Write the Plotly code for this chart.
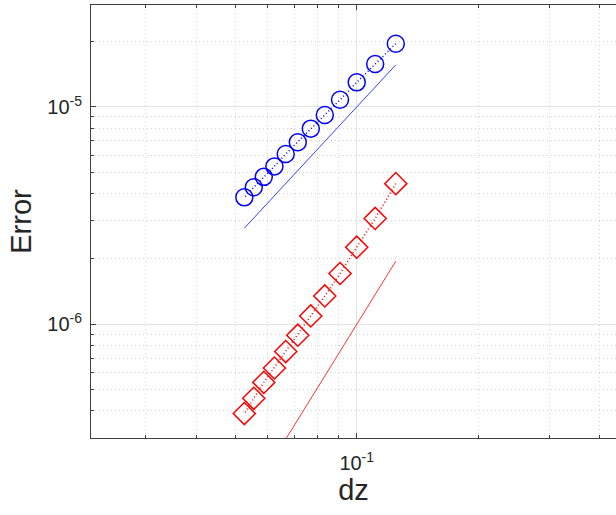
import plotly.graph_objects as go

# Data
dz = [1/8, 1/9, 1/10, 1/11, 1/12, 1/13, 1/14, 1/15, 1/16, 1/17, 1/18, 1/19]
err_blue = [1.955e-5, 1.577e-5, 1.298e-5, 1.080e-5, 9.19e-6, 7.95e-6,
            6.88e-6, 6.08e-6, 5.33e-6, 4.77e-6, 4.27e-6, 3.84e-6]
err_red = [4.44e-6, 3.07e-6, 2.265e-6, 1.714e-6, 1.351e-6, 1.093e-6,
           8.92e-7, 7.50e-7, 6.30e-7, 5.41e-7, 4.57e-7, 3.89e-7]
ref_x = [1/19, 1/8]
ref_blue = [2.77e-6, 1.5625e-5]
ref_red = [1.458e-7, 1.953e-6]

x_tickvals = [0.1]
x_ticktext = ["10<sup>-1</sup>"]
y_tickvals = [1e-6, 1e-5]
y_ticktext = ["10<sup>-6</sup>", "10<sup>-5</sup>"]
x_minor = [0.03, 0.04, 0.05, 0.06, 0.07, 0.08, 0.09, 0.2, 0.3, 0.4]
y_minor = [3e-7, 4e-7, 5e-7, 6e-7, 7e-7, 8e-7, 9e-7,
           2e-6, 3e-6, 4e-6, 5e-6, 6e-6, 7e-6, 8e-6, 9e-6, 2e-5, 3e-5]

fig = go.Figure()
fig.add_trace(go.Scatter(x=dz, y=err_blue, mode="lines+markers",
                         line=dict(color="#0000ff", width=1.5, dash="1px,2.5px"),
                         marker=dict(symbol="circle-open", size=17,
                                     line=dict(color="#0000ff", width=1.5)),
                         showlegend=False))
fig.add_trace(go.Scatter(x=ref_x, y=ref_blue, mode="lines",
                         line=dict(color="#3344ff", width=1),
                         showlegend=False))
fig.add_trace(go.Scatter(x=dz, y=err_red, mode="lines+markers",
                         line=dict(color="#ff0000", width=1.5, dash="1px,2.5px"),
                         marker=dict(symbol="diamond-open", size=17,
                                     line=dict(color="#ff0000", width=1.5)),
                         showlegend=False))
fig.add_trace(go.Scatter(x=ref_x, y=ref_red, mode="lines",
                         line=dict(color="#ff3333", width=1),
                         showlegend=False))

axis_font = dict(family="Liberation Sans, Arial, sans-serif", size=20, color="#262626")
title_font = dict(family="Liberation Sans, Arial, sans-serif", size=29, color="#262626")

fig.update_xaxes(type="log", range=[-1.659, -0.357],
                 tickmode="array", tickvals=x_tickvals, ticktext=x_ticktext,
                 showline=True, linecolor="#404040", linewidth=1, mirror="ticks",
                 ticks="inside", ticklen=5, tickcolor="#404040",
                 ticklabelstandoff=7,
                 showgrid=True, gridcolor="#e3e3e3", gridwidth=1,
                 zeroline=False, tickfont=axis_font,
                 title=dict(text="dz", font=title_font, standoff=6),
                 minor=dict(tickvals=x_minor, ticks="inside", ticklen=3,
                            tickcolor="#404040", showgrid=True,
                            gridcolor="#d4d4d4", griddash="1px,3px", gridwidth=1))
fig.update_yaxes(type="log", range=[-6.5226, -4.531],
                 tickmode="array", tickvals=y_tickvals, ticktext=y_ticktext,
                 showline=True, linecolor="#404040", linewidth=1, mirror=False,
                 ticks="inside", ticklen=5, tickcolor="#404040",
                 ticklabelstandoff=4,
                 showgrid=True, gridcolor="#e3e3e3", gridwidth=1,
                 zeroline=False, tickfont=axis_font,
                 title=dict(text="Error", font=title_font, standoff=7),
                 minor=dict(tickvals=y_minor, ticks="inside", ticklen=3,
                            tickcolor="#404040", showgrid=True,
                            gridcolor="#d4d4d4", griddash="1px,3px", gridwidth=1))

fig.update_layout(width=616, height=515,
                  margin=dict(l=91, r=0, t=5, b=77),
                  paper_bgcolor="white", plot_bgcolor="white",
                  showlegend=False)

fig.write_html("out.html", config={"displayModeBar": False},
               post_script="document.body.style.margin='0';document.body.style.overflow='hidden';")
